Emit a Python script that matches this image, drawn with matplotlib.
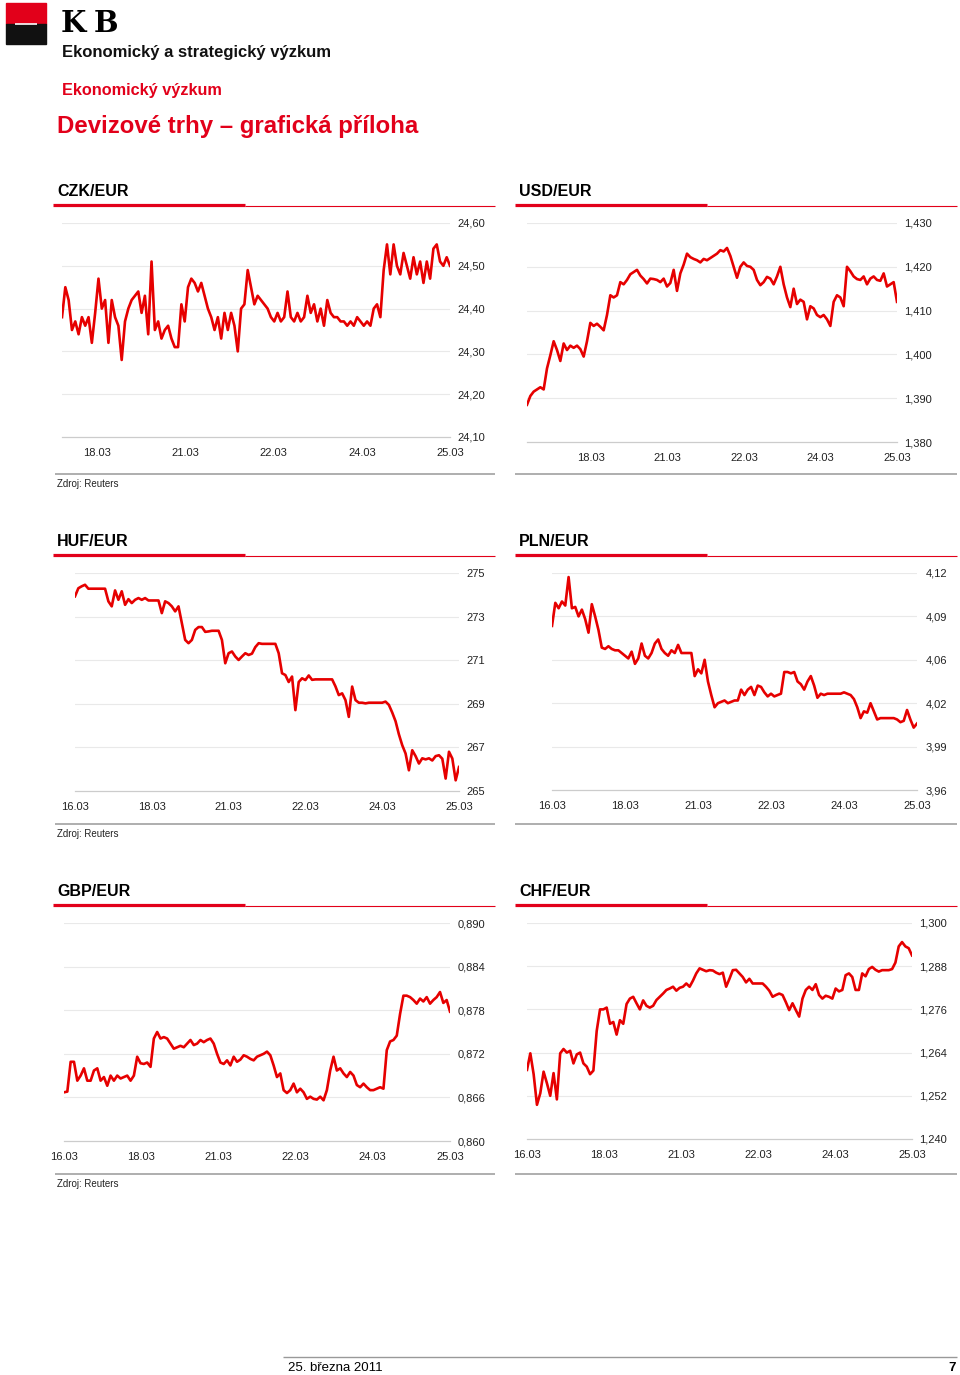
import numpy as np
import matplotlib
matplotlib.use("Agg")
import matplotlib.pyplot as plt
from matplotlib.lines import Line2D
from matplotlib.patches import Rectangle

plt.rcParams['font.family'] = ['Liberation Sans', 'DejaVu Sans']

W, H = 960, 1375
RED = '#e2001a'
LINE_RED = '#e60000'

# ---- data ----
days_a = ['18.03', '21.03', '22.03', '24.03', '25.03']
days_b = ['16.03', '18.03', '21.03', '22.03', '24.03', '25.03']

czk = [24.38, 24.45, 24.42, 24.35, 24.37, 24.34, 24.38, 24.36, 24.38, 24.32,
       24.39, 24.47, 24.40, 24.42, 24.32, 24.42, 24.38, 24.36, 24.28, 24.37,
       24.40, 24.42, 24.43, 24.44, 24.39, 24.43, 24.34, 24.51, 24.35, 24.37,
       24.33, 24.35, 24.36, 24.33, 24.31, 24.31, 24.41, 24.37, 24.45, 24.47,
       24.46, 24.44, 24.46, 24.43, 24.40, 24.38, 24.35, 24.38, 24.33, 24.39,
       24.35, 24.39, 24.36, 24.30, 24.40, 24.41, 24.49, 24.45, 24.41, 24.43,
       24.42, 24.41, 24.40, 24.38, 24.37, 24.39, 24.37, 24.38, 24.44, 24.38,
       24.37, 24.39, 24.37, 24.38, 24.43, 24.39, 24.41, 24.37, 24.40, 24.36,
       24.42, 24.39, 24.38, 24.38, 24.37, 24.37, 24.36, 24.37, 24.36, 24.38,
       24.37, 24.36, 24.37, 24.36, 24.40, 24.41, 24.38, 24.49, 24.55, 24.48,
       24.55, 24.50, 24.48, 24.53, 24.50, 24.47, 24.52, 24.48, 24.51, 24.46,
       24.51, 24.47, 24.54, 24.55, 24.51, 24.50, 24.52, 24.50]

usd = [1.3885, 1.3905, 1.3915, 1.3920, 1.3925, 1.3920, 1.3968, 1.3998, 1.4030, 1.4010,
       1.3985, 1.4025, 1.4010, 1.4020, 1.4015, 1.4020, 1.4012, 1.3995, 1.4030, 1.4072,
       1.4065, 1.4070, 1.4063, 1.4055, 1.4090, 1.4135, 1.4130, 1.4135, 1.4165, 1.4160,
       1.4170, 1.4183, 1.4188, 1.4193, 1.4180, 1.4172, 1.4162, 1.4173, 1.4172, 1.4170,
       1.4165, 1.4173, 1.4155, 1.4163, 1.4193, 1.4145, 1.4185, 1.4205, 1.4230, 1.4222,
       1.4218, 1.4215, 1.4210, 1.4218, 1.4215, 1.4220, 1.4225, 1.4230, 1.4238, 1.4235,
       1.4243, 1.4225, 1.4200, 1.4175, 1.4200, 1.4210, 1.4202, 1.4200, 1.4193, 1.4170,
       1.4158, 1.4165, 1.4177, 1.4173, 1.4160, 1.4178, 1.4200, 1.4160, 1.4130, 1.4108,
       1.4150, 1.4115, 1.4125, 1.4120, 1.4080, 1.4110, 1.4105, 1.4090, 1.4085, 1.4090,
       1.4080, 1.4065, 1.4120, 1.4135, 1.4130, 1.4110, 1.4200, 1.4190, 1.4178, 1.4172,
       1.4170, 1.4178, 1.4160, 1.4173, 1.4178, 1.4170, 1.4168, 1.4185, 1.4155, 1.4160,
       1.4165, 1.4120]

huf = [273.93, 274.30, 274.39, 274.46, 274.28, 274.28, 274.28, 274.28, 274.28, 274.28,
       273.70, 273.47, 274.20, 273.77, 274.16, 273.54, 273.80, 273.62, 273.77, 273.85,
       273.77, 273.85, 273.74, 273.74, 273.74, 273.74, 273.16, 273.70, 273.62, 273.47,
       273.24, 273.47, 272.70, 271.93, 271.78, 271.93, 272.39, 272.52, 272.52, 272.30,
       272.32, 272.35, 272.35, 272.35, 271.93, 270.86, 271.32, 271.40, 271.17, 271.01,
       271.17, 271.32, 271.24, 271.30, 271.60, 271.78, 271.75, 271.75, 271.75, 271.75,
       271.75, 271.32, 270.40, 270.32, 270.00, 270.25, 268.71, 270.00, 270.17, 270.09,
       270.30, 270.10, 270.12, 270.12, 270.12, 270.12, 270.12, 270.12, 269.80, 269.40,
       269.48, 269.17, 268.40, 269.79, 269.17, 269.05, 269.05, 269.02, 269.05, 269.05,
       269.05, 269.05, 269.05, 269.10, 268.95, 268.60, 268.20, 267.60, 267.10, 266.72,
       265.95, 266.87, 266.60, 266.26, 266.50, 266.45, 266.50, 266.40, 266.60, 266.64,
       266.48, 265.57, 266.80, 266.49, 265.49, 266.10]

pln = [4.081, 4.098, 4.094, 4.099, 4.096, 4.117, 4.094, 4.095, 4.088, 4.093,
       4.086, 4.076, 4.097, 4.088, 4.078, 4.065, 4.064, 4.066, 4.064, 4.063,
       4.063, 4.061, 4.059, 4.057, 4.062, 4.053, 4.057, 4.068, 4.059, 4.057,
       4.061, 4.068, 4.071, 4.064, 4.061, 4.059, 4.063, 4.061, 4.067, 4.061,
       4.061, 4.061, 4.061, 4.044, 4.049, 4.046, 4.056, 4.040, 4.030, 4.021,
       4.024, 4.025, 4.026, 4.024, 4.025, 4.026, 4.026, 4.034, 4.030, 4.034,
       4.036, 4.030, 4.037, 4.036, 4.032, 4.029, 4.031, 4.029, 4.030, 4.031,
       4.047, 4.047, 4.046, 4.047, 4.040, 4.038, 4.034, 4.040, 4.044, 4.037,
       4.028, 4.031, 4.030, 4.031, 4.031, 4.031, 4.031, 4.031, 4.032, 4.031,
       4.030, 4.027, 4.021, 4.013, 4.018, 4.017, 4.024, 4.018, 4.012, 4.013,
       4.013, 4.013, 4.013, 4.013, 4.012, 4.010, 4.011, 4.019, 4.012, 4.006,
       4.009]

gbp = [0.8667, 0.8668, 0.8709, 0.8709, 0.8683, 0.8690, 0.8700, 0.8683, 0.8683, 0.8697,
       0.8700, 0.8683, 0.8688, 0.8676, 0.8690, 0.8683, 0.8690, 0.8686, 0.8688, 0.8690,
       0.8683, 0.8690, 0.8716, 0.8707, 0.8706, 0.8708, 0.8702, 0.8741, 0.8750, 0.8741,
       0.8743, 0.8741, 0.8734, 0.8727, 0.8729, 0.8731, 0.8729, 0.8734, 0.8739, 0.8732,
       0.8734, 0.8739, 0.8736, 0.8739, 0.8741, 0.8734, 0.8720, 0.8708, 0.8706, 0.8711,
       0.8704, 0.8716, 0.8709, 0.8712, 0.8718, 0.8716, 0.8713, 0.8711, 0.8716, 0.8718,
       0.8720, 0.8723, 0.8718, 0.8704, 0.8688, 0.8693, 0.8670, 0.8666, 0.8670, 0.8679,
       0.8667, 0.8672, 0.8667, 0.8658, 0.8661, 0.8658, 0.8657, 0.8661, 0.8656, 0.8670,
       0.8697, 0.8716, 0.8697, 0.8700, 0.8693, 0.8688, 0.8695, 0.8690, 0.8677, 0.8674,
       0.8679, 0.8674, 0.8670, 0.8670, 0.8672, 0.8674, 0.8672, 0.8725, 0.8737, 0.8739,
       0.8745, 0.8775, 0.8800, 0.8800, 0.8798, 0.8794, 0.8789, 0.8796, 0.8792, 0.8798,
       0.8789, 0.8794, 0.8798, 0.8805, 0.8790, 0.8794, 0.8778]

chf = [1.2592, 1.2638, 1.2580, 1.2495, 1.2527, 1.2587, 1.2555, 1.2520, 1.2583, 1.2510,
       1.2638, 1.2650, 1.2640, 1.2645, 1.2610, 1.2635, 1.2640, 1.2610, 1.2601, 1.2580,
       1.2590, 1.2700, 1.2760, 1.2760, 1.2765, 1.2720, 1.2725, 1.2690, 1.2730, 1.2720,
       1.2775, 1.2790, 1.2795, 1.2777, 1.2760, 1.2785, 1.2770, 1.2765, 1.2770, 1.2786,
       1.2795, 1.2804, 1.2814, 1.2818, 1.2823, 1.2812, 1.2820, 1.2823, 1.2832, 1.2823,
       1.2840, 1.2860, 1.2874, 1.2870, 1.2866, 1.2869, 1.2868, 1.2862, 1.2858, 1.2862,
       1.2823, 1.2845, 1.2869, 1.2870, 1.2860, 1.2850, 1.2835, 1.2845, 1.2832, 1.2832,
       1.2832, 1.2832, 1.2823, 1.2812, 1.2795, 1.2800, 1.2804, 1.2800, 1.2780, 1.2758,
       1.2777, 1.2758, 1.2740, 1.2790, 1.2814, 1.2823, 1.2814, 1.2830, 1.2800, 1.2790,
       1.2798, 1.2795, 1.2790, 1.2818, 1.2810, 1.2814, 1.2855, 1.2860, 1.2850, 1.2814,
       1.2814, 1.2860, 1.2852, 1.2872, 1.2878, 1.2870, 1.2865, 1.2869, 1.2869, 1.2869,
       1.2872, 1.2890, 1.2935, 1.2947, 1.2935, 1.2930, 1.2910]


fig = plt.figure(figsize=(W / 100, H / 100), dpi=100)


def fx(x):
    return x / W


def fy(y):
    return 1 - y / H


def hline(x0, x1, y, color, lw):
    fig.add_artist(Line2D([fx(x0), fx(x1)], [fy(y), fy(y)], color=color, lw=lw,
                          transform=fig.transFigure, solid_capstyle='butt'))


panels = [
    # title, title x, plot box (l, t, r, b) px, values, x range, y range, label fmt,
    # day labels, tick marks, right edge of y labels
    ('CZK/EUR', 57, (62, 223, 450, 437), czk, -0.4, 4.0, 24.10, 24.60, '{:.2f}', days_a, [0, 2, 4], 485),
    ('USD/EUR', 519, (527, 223, 897, 442), usd, -0.84, 4.0, 1.380, 1.430, '{:.3f}', days_a, [0, 2, 4], 932),
    ('HUF/EUR', 57, (75, 573, 459, 791), huf, 0, 5, 265, 275, '{:.0f}', days_b, [1, 3, 5], 485),
    ('PLN/EUR', 519, (552, 573, 917, 790), pln, 0, 5, 3.96, 4.12, '{:.2f}', days_b, [1, 3, 5], 947),
    ('GBP/EUR', 57, (64, 923, 450, 1141), gbp, 0, 5, 0.860, 0.890, '{:.3f}', days_b, [1, 3, 5], 485),
    ('CHF/EUR', 519, (527, 923, 912, 1139), chf, 0, 5, 1.240, 1.300, '{:.3f}', days_b, [1, 3, 5], 947),
]

row_top = [191, 541, 891]
sep_y = [474, 824, 1174]

for i, (title, tx, box, vals, x0, x1, ylo, yhi, fmt, days, marks, labr) in enumerate(panels):
    r_i = i // 2
    ty = row_top[r_i]
    fig.text(fx(tx), fy(ty), title, fontsize=11.5, fontweight='bold', va='center')
    if i % 2 == 1:
        hline(515, 707, ty + 14, RED, 2.3)
        hline(707, 957, ty + 15, RED, 0.8)
        hline(515, 957, sep_y[r_i], '#999999', 1.1)
    else:
        hline(53, 245, ty + 14, RED, 2.3)
        hline(245, 495, ty + 15, RED, 0.8)
        hline(55, 495, sep_y[r_i], '#999999', 1.1)
        fig.text(fx(57), fy(sep_y[r_i] + 10), 'Zdroj: Reuters', fontsize=7,
                 va='center', color='#222222')

    l, t, r, b = box
    ax = fig.add_axes([fx(l), fy(b), fx(r - l), (b - t) / H])
    ax.plot(np.linspace(x0, x1, len(vals)), vals, color=LINE_RED, lw=1.9)
    ax.set_xlim(x0, x1)
    ax.set_ylim(ylo, yhi)

    yt = np.linspace(ylo, yhi, 6)
    ax.set_yticks(yt)
    ax.set_yticklabels([fmt.format(v).replace('.', ',') for v in yt], ha='right')
    for v in yt[1:]:
        ax.axhline(v, color='#e9e9e9', lw=0.8, zorder=0)
    ax.tick_params(axis='y', left=False, right=False, labelleft=False,
                   labelright=True, pad=(labr - r) * 0.72, labelsize=8,
                   labelcolor='#222222', length=0)

    ax.set_xticks(np.arange(len(days)))
    ax.set_xticklabels(days)
    ax.tick_params(axis='x', which='major', length=0, pad=8, labelsize=8,
                   labelcolor='#222222')
    ax.set_xticks(marks, minor=True)
    ax.tick_params(axis='x', which='minor', length=3, color='#bbbbbb', width=0.8)

    for s in ['top', 'left', 'right']:
        ax.spines[s].set_visible(False)
    ax.spines['bottom'].set_color('#cccccc')
    ax.spines['bottom'].set_linewidth(0.9)
    ax.patch.set_alpha(0)

# ---- header ----
fig.add_artist(Rectangle((fx(6), fy(24)), fx(40), 21 / H, color=RED,
                         transform=fig.transFigure))
fig.add_artist(Rectangle((fx(6), fy(44)), fx(40), 20 / H, color='#111111',
                         transform=fig.transFigure))
hline(15, 37, 24, 'white', 1.2)
fig.text(fx(61), fy(24), 'K', fontsize=21, family='DejaVu Serif',
         fontweight='bold', va='center')
fig.text(fx(94), fy(24), 'B', fontsize=21, family='DejaVu Serif',
         fontweight='bold', va='center')
fig.text(fx(62), fy(53), 'Ekonomický a strategický výzkum', fontsize=12,
         fontweight='bold', va='center', color='#111111')
fig.text(fx(62), fy(91), 'Ekonomický výzkum', fontsize=11.7, fontweight='bold',
         va='center', color=RED)
fig.text(fx(57), fy(127), 'Devizové trhy – grafická příloha', fontsize=17.3,
         fontweight='bold', va='center', color=RED)

# ---- footer ----
hline(283, 957, 1357, '#999999', 1.0)
fig.text(fx(288), fy(1368), '25. března 2011', fontsize=9.5, va='center')
fig.text(fx(956), fy(1368), '7', fontsize=9.5, fontweight='bold', va='center',
         ha='right')

fig.savefig('out.png', dpi=100)
